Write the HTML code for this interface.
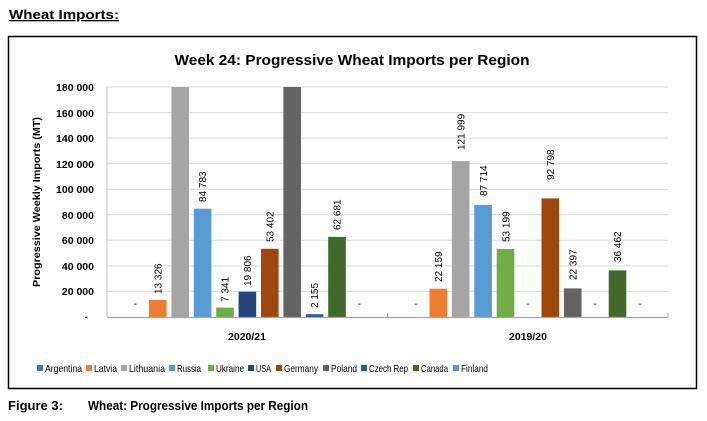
<!DOCTYPE html>
<html><head><meta charset="utf-8"><style>
body{margin:0;background:#fff;width:707px;height:416px;overflow:hidden;font-family:"Liberation Sans",sans-serif}
</style></head><body>
<svg width="707" height="416" xmlns="http://www.w3.org/2000/svg" font-family="Liberation Sans, sans-serif">
<text x="9" y="19" font-size="13" font-weight="bold" text-decoration="underline" textLength="110" lengthAdjust="spacingAndGlyphs">Wheat Imports:</text>
<rect x="8.5" y="36.5" width="688" height="352" fill="#fff" stroke="#000" stroke-width="1.5"/>
<text x="352" y="65" font-size="15" font-weight="bold" text-anchor="middle" fill="#000" textLength="355" lengthAdjust="spacingAndGlyphs">Week 24: Progressive Wheat Imports per Region</text>
<g stroke="#d9d9d9" stroke-width="1">
<line x1="107" x2="668" y1="87" y2="87"/><line x1="107" x2="668" y1="112.6" y2="112.6"/><line x1="107" x2="668" y1="138.1" y2="138.1"/><line x1="107" x2="668" y1="163.7" y2="163.7"/><line x1="107" x2="668" y1="189.2" y2="189.2"/><line x1="107" x2="668" y1="214.8" y2="214.8"/><line x1="107" x2="668" y1="240.3" y2="240.3"/><line x1="107" x2="668" y1="265.9" y2="265.9"/><line x1="107" x2="668" y1="291.4" y2="291.4"/>
</g>
<line x1="107" x2="107" y1="87" y2="317" stroke="#bfbfbf"/>
<g font-size="10.5" font-weight="bold" text-anchor="end" fill="#000">
<text x="94" y="91">180 000</text><text x="94" y="117">160 000</text><text x="94" y="142">140 000</text><text x="94" y="168">120 000</text><text x="94" y="193">100 000</text><text x="94" y="219">80 000</text><text x="94" y="244">60 000</text><text x="94" y="270">40 000</text><text x="94" y="295">20 000</text><text x="88" y="320">-</text>
</g>
<text transform="translate(40,202) rotate(-90)" font-size="10.5" font-weight="bold" text-anchor="middle" textLength="170" lengthAdjust="spacingAndGlyphs">Progressive Weekly Imports (MT)</text>
<g>
<rect x="149" y="300" width="17.6" height="17" fill="#ED7D31"/>
<rect x="171.4" y="87" width="17.6" height="230" fill="#A5A5A5"/>
<rect x="193.8" y="208.7" width="17.6" height="108.3" fill="#5B9BD5"/>
<rect x="216.2" y="307.6" width="17.6" height="9.4" fill="#70AD47"/>
<rect x="238.6" y="291.7" width="17.6" height="25.3" fill="#264478"/>
<rect x="261" y="248.8" width="17.6" height="68.2" fill="#9E480E"/>
<rect x="283.4" y="87" width="17.6" height="230" fill="#636363"/>
<rect x="305.8" y="314.2" width="17.6" height="2.8" fill="#255E91"/>
<rect x="328.2" y="236.9" width="17.6" height="80.1" fill="#43682B"/>
<rect x="429.5" y="288.7" width="17.6" height="28.3" fill="#ED7D31"/>
<rect x="451.9" y="161.1" width="17.6" height="155.9" fill="#A5A5A5"/>
<rect x="474.3" y="204.9" width="17.6" height="112.1" fill="#5B9BD5"/>
<rect x="496.7" y="249" width="17.6" height="68" fill="#70AD47"/>
<rect x="541.5" y="198.4" width="17.6" height="118.6" fill="#9E480E"/>
<rect x="563.9" y="288.4" width="17.6" height="28.6" fill="#636363"/>
<rect x="608.7" y="270.4" width="17.6" height="46.6" fill="#43682B"/>
</g>
<line x1="107" x2="668" y1="317.5" y2="317.5" stroke="#a6a6a6" stroke-width="1.2"/>
<line x1="387.5" x2="387.5" y1="317" y2="313" stroke="#a6a6a6"/>
<line x1="668" x2="668" y1="317" y2="313" stroke="#a6a6a6"/>
<g font-size="10" fill="#000" text-anchor="middle">
<text x="135.4" y="307">-</text><text x="359.4" y="307">-</text>
<text x="415.9" y="307">-</text><text x="527.9" y="307">-</text><text x="595.1" y="307">-</text><text x="639.9" y="307">-</text>
</g>
<g font-size="10" fill="#000" text-anchor="start">
<text transform="translate(161.5,294) rotate(-90)">13 326</text>
<text transform="translate(206,202) rotate(-90)">84 783</text>
<text transform="translate(228.5,302) rotate(-90)">7 341</text>
<text transform="translate(251,286) rotate(-90)">19 806</text>
<text transform="translate(273.5,242) rotate(-90)">53 402</text>
<text transform="translate(318,308) rotate(-90)">2 155</text>
<text transform="translate(340.5,230) rotate(-90)">62 681</text>
<text transform="translate(442,282) rotate(-90)">22 159</text>
<text transform="translate(464.5,150) rotate(-90)">121 999</text>
<text transform="translate(487,196) rotate(-90)">87 714</text>
<text transform="translate(509.5,242) rotate(-90)">53 199</text>
<text transform="translate(554,180) rotate(-90)">92 798</text>
<text transform="translate(576.5,280) rotate(-90)">22 397</text>
<text transform="translate(621,262) rotate(-90)">36 462</text>
</g>
<g font-size="10.5" font-weight="bold" text-anchor="middle">
<text x="247" y="340">2020/21</text><text x="528" y="340">2019/20</text>
</g>
<g font-size="10.5" fill="#000" lengthAdjust="spacingAndGlyphs">
<rect x="37" y="365" width="6" height="6" fill="#4472C4"/><text x="45" y="372" textLength="37" lengthAdjust="spacingAndGlyphs">Argentina</text>
<rect x="86" y="365" width="6" height="6" fill="#ED7D31"/><text x="94" y="372" textLength="23" lengthAdjust="spacingAndGlyphs">Latvia</text>
<rect x="121" y="365" width="6" height="6" fill="#A5A5A5"/><text x="129" y="372" textLength="36" lengthAdjust="spacingAndGlyphs">Lithuania</text>
<rect x="169" y="365" width="6" height="6" fill="#5B9BD5"/><text x="177" y="372" textLength="24" lengthAdjust="spacingAndGlyphs">Russia</text>
<rect x="208" y="365" width="6" height="6" fill="#70AD47"/><text x="216" y="372" textLength="28" lengthAdjust="spacingAndGlyphs">Ukraine</text>
<rect x="248" y="365" width="6" height="6" fill="#264478"/><text x="256" y="372" textLength="15" lengthAdjust="spacingAndGlyphs">USA</text>
<rect x="276" y="365" width="6" height="6" fill="#9E480E"/><text x="284" y="372" textLength="34" lengthAdjust="spacingAndGlyphs">Germany</text>
<rect x="323" y="365" width="6" height="6" fill="#636363"/><text x="331" y="372" textLength="26" lengthAdjust="spacingAndGlyphs">Poland</text>
<rect x="361" y="365" width="6" height="6" fill="#255E91"/><text x="369" y="372" textLength="39" lengthAdjust="spacingAndGlyphs">Czech Rep</text>
<rect x="413" y="365" width="6" height="6" fill="#43682B"/><text x="421" y="372" textLength="27" lengthAdjust="spacingAndGlyphs">Canada</text>
<rect x="453" y="365" width="6" height="6" fill="#698ED0"/><text x="461" y="372" textLength="27" lengthAdjust="spacingAndGlyphs">Finland</text>
</g>
<text x="8" y="410" font-size="13" font-weight="bold" textLength="55" lengthAdjust="spacingAndGlyphs">Figure 3:</text>
<text x="88" y="410" font-size="13" font-weight="bold" textLength="220" lengthAdjust="spacingAndGlyphs">Wheat: Progressive Imports per Region</text>
</svg>
</body></html>
